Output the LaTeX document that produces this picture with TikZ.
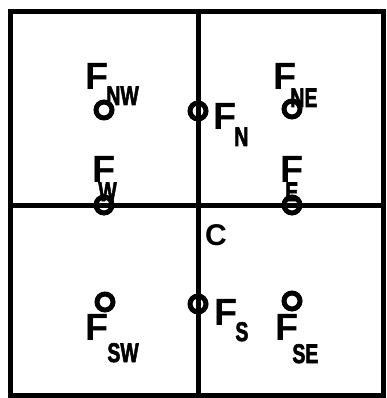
\documentclass[tikz,border=0pt]{standalone}
\usepackage{fontspec}
\usepackage{graphicx}
\setmainfont{Liberation Sans}
\newfontface\heavyface{Liberation Sans Bold}[FakeBold=2.5]
\newcommand\subtxt[2]{\raisebox{-#1}{\heavyface\fontsize{27}{27}\selectfont\scalebox{0.72}[1.0]{#2}}}
\begin{document}
\begin{tikzpicture}[x=1pt,y=-1pt,
  frame/.style={line width=5pt, line cap=rect},
  port/.style={circle, draw, line width=5pt, minimum size=16pt, inner sep=0pt},
  lab/.style={font=\fontsize{38}{38}\selectfont\bfseries, inner sep=0pt, anchor=base west}]
\useasboundingbox (0,0) rectangle (386,398);
% frame and cross lines
\coordinate (tl) at (10,12);
\coordinate (br) at (383,395);
\coordinate (vtop) at (198,12);
\coordinate (vbot) at (198,395);
\coordinate (hleft) at (10,205);
\coordinate (hright) at (383,205);
\draw[frame] (tl) rectangle (br);
\draw[frame] (vtop) -- (vbot);
\draw[frame] (hleft) -- (hright);
% flux points
\node[port] (pNW) at (104,110) {};
\node[port] (pN)  at (198,111) {};
\node[port] (pNE) at (292,109) {};
\node[port] (pW)  at (104,205) {};
\node[port] (pE)  at (292,205) {};
\node[port] (pSW) at (105,302) {};
\node[port] (pS)  at (198,304) {};
\node[port] (pSE) at (292,301) {};
% labels
\node[lab] (lNW) at (85,90)  {F\kern-2pt\subtxt{15pt}{NW}};
\node[lab] (lN)  at (213,130) {F\kern-2pt\subtxt{16pt}{N}};
\node[lab] (lNE) at (273,90) {F\kern-6pt\subtxt{17pt}{NE}};
\node[lab] (lW)  at (92,182) {F\kern-17pt\subtxt{19pt}{W}};
\node[lab] (lE)  at (280,182) {F\kern-18pt\subtxt{19pt}{E}};
\node[lab] (lSW) at (85,340) {F\kern-1pt\subtxt{22pt}{SW}};
\node[lab] (lS)  at (214,325) {F\kern-2pt\subtxt{16pt}{S}};
\node[lab] (lSE) at (275,340) {F\kern-6pt\subtxt{23pt}{SE}};
\node[lab, font=\fontsize{30}{30}\selectfont\bfseries] (C) at (205,245) {C};
\end{tikzpicture}
\end{document}
